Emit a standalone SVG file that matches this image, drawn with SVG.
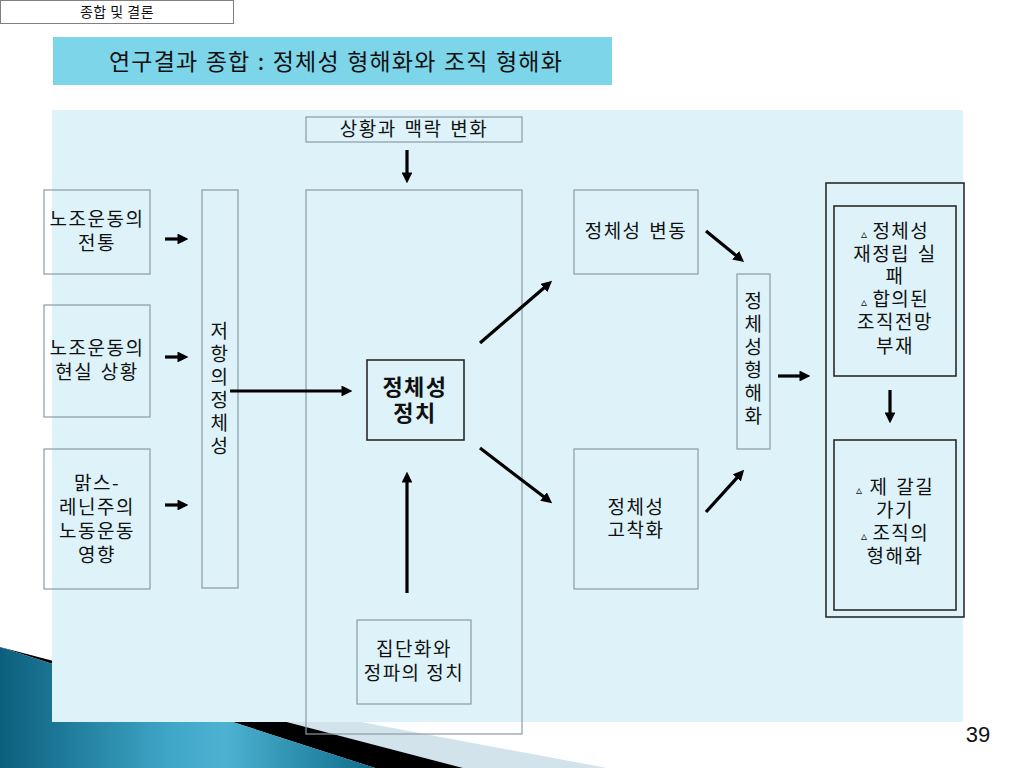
<svg xmlns="http://www.w3.org/2000/svg" width="1024" height="768" viewBox="0 0 1024 768">
<defs>
<linearGradient id="teal" x1="0" y1="0" x2="1" y2="0">
<stop offset="0" stop-color="#0B5F7C"/>
<stop offset="0.45" stop-color="#3FA6C8"/>
<stop offset="0.6" stop-color="#4DB2D2"/>
<stop offset="1" stop-color="#0E6C8A"/>
</linearGradient>
<marker id="ah" viewBox="0 0 10 10" refX="6" refY="5" markerWidth="3.4" markerHeight="3.4" orient="auto" markerUnits="strokeWidth">
<path d="M0,0 L10,5 L0,10 z" fill="#000"/>
</marker>
<style>
.t{font-family:"Noto Sans CJK KR","Noto Sans",sans-serif;fill:#111;text-anchor:middle}
.b{font-size:19px;letter-spacing:1.5px}
.box{fill:none;stroke:#8A9BA6;stroke-width:1.2}
.dbox{fill:none;stroke:#2A2A2A;stroke-width:1.6}
.arr{stroke:#000;stroke-width:3.2;fill:none;marker-end:url(#ah)}
.tri{font-size:12px}
</style>
</defs>
<rect width="1024" height="768" fill="#fff"/>
<!-- bottom decoration -->
<polygon points="200,692 607,768 463,768 200,700" fill="#D3E3EC"/>
<polygon points="0,647 463,768 375,768" fill="#000"/>
<polygon points="0,647 375,768 0,768" fill="url(#teal)"/>
<!-- header -->
<g id="header">
<rect x="0.5" y="0.5" width="233" height="23" fill="#fff" stroke="#808080" stroke-width="1"/>
<text class="t" x="117" y="17" font-size="14" letter-spacing="0.5">종합 및 결론</text>
</g>
<g id="title">
<rect x="53" y="37" width="559" height="48" fill="#7DD5EA"/>
<text class="t" x="336" y="70" font-size="23" letter-spacing="1.2" word-spacing="1">연구결과 종합 : 정체성 형해화와 조직 형해화</text>
</g>
<rect id="panel" x="52" y="110" width="911" height="612" fill="#DDF3F9"/>

<g id="context">
<rect class="box" x="306" y="117" width="216" height="25"/>
<text class="t b" x="414" y="136" word-spacing="2">상황과 맥락 변화</text>
</g>
<g id="center-frame">
<rect class="box" x="306" y="190" width="216" height="544"/>
</g>
<g id="identity-politics">
<rect class="dbox" x="367" y="360" width="97" height="80"/>
<text class="t" x="415" y="395" font-size="22" font-weight="bold" letter-spacing="1.5">정체성</text>
<text class="t" x="415" y="421" font-size="22" font-weight="bold" letter-spacing="1.5">정치</text>
</g>
<g id="factions">
<rect class="box" x="357" y="620" width="114" height="84"/>
<text class="t b" x="414" y="656">집단화와</text>
<text class="t b" x="414" y="680">정파의 정치</text>
</g>
<g id="tradition">
<rect class="box" x="44" y="190" width="106" height="84"/>
<text class="t b" x="97" y="226">노조운동의</text>
<text class="t b" x="97" y="250">전통</text>
</g>
<g id="reality">
<rect class="box" x="44" y="305" width="106" height="112"/>
<text class="t b" x="97" y="355">노조운동의</text>
<text class="t b" x="97" y="379" word-spacing="2">현실 상황</text>
</g>
<g id="marxism">
<rect class="box" x="44" y="449" width="106" height="140"/>
<text class="t b" x="97" y="490">맑스-</text>
<text class="t b" x="97" y="514">레닌주의</text>
<text class="t b" x="97" y="538">노동운동</text>
<text class="t b" x="97" y="562">영향</text>
</g>
<g id="resistance-identity">
<rect class="box" x="202" y="190" width="36" height="398"/>
<text class="t b" x="220" y="338" letter-spacing="0">저<tspan x="220" dy="23">항</tspan><tspan x="220" dy="23">의</tspan><tspan x="220" dy="23">정</tspan><tspan x="220" dy="23">체</tspan><tspan x="220" dy="23">성</tspan></text>
</g>
<g id="identity-change">
<rect class="box" x="574" y="190" width="124" height="84"/>
<text class="t b" x="636" y="238" word-spacing="2">정체성 변동</text>
</g>
<g id="identity-fixation">
<rect class="box" x="574" y="449" width="124" height="140"/>
<text class="t b" x="636" y="514">정체성</text>
<text class="t b" x="636" y="537">고착화</text>
</g>
<g id="identity-hollowing">
<rect class="box" x="737" y="274" width="33" height="175"/>
<text class="t b" x="754" y="308" letter-spacing="0">정<tspan x="754" dy="23">체</tspan><tspan x="754" dy="23">성</tspan><tspan x="754" dy="23">형</tspan><tspan x="754" dy="23">해</tspan><tspan x="754" dy="23">화</tspan></text>
</g>
<g id="outcome-frame">
<rect class="dbox" x="826" y="183" width="138" height="434"/>
</g>
<g id="failure">
<rect class="dbox" x="834" y="206" width="122" height="170"/>
<text class="t b" x="895" y="238"><tspan class="tri">▵ </tspan>정체성</text>
<text class="t b" x="895" y="261" word-spacing="2">재정립 실</text>
<text class="t b" x="895" y="283">패</text>
<text class="t b" x="895" y="306"><tspan class="tri">▵ </tspan>합의된</text>
<text class="t b" x="895" y="329">조직전망</text>
<text class="t b" x="895" y="353">부재</text>
</g>
<g id="separate-ways">
<rect class="dbox" x="834" y="440" width="122" height="170"/>
<text class="t b" x="895" y="494" word-spacing="2"><tspan class="tri">▵ </tspan>제 갈길</text>
<text class="t b" x="895" y="517">가기</text>
<text class="t b" x="895" y="540"><tspan class="tri">▵ </tspan>조직의</text>
<text class="t b" x="895" y="563">형해화</text>
</g>

<g id="connectors">
<line class="arr" x1="407" y1="150" x2="407" y2="179"/>
<line class="arr" x1="407" y1="593" x2="407" y2="476"/>
<line class="arr" x1="165" y1="239" x2="184" y2="239"/>
<line class="arr" x1="165" y1="357" x2="184" y2="357"/>
<line class="arr" x1="165" y1="505" x2="184" y2="505"/>
<line class="arr" x1="230" y1="391" x2="348" y2="391"/>
<line class="arr" x1="480" y1="343" x2="548.8" y2="283.7"/>
<line class="arr" x1="480" y1="448" x2="548.7" y2="500.5"/>
<line class="arr" x1="706" y1="231" x2="740.7" y2="259.3"/>
<line class="arr" x1="706" y1="512" x2="741.2" y2="473.1"/>
<line class="arr" x1="778" y1="376" x2="806" y2="376"/>
<line class="arr" x1="890" y1="390" x2="890" y2="419"/>
</g>
<text x="978" y="742" font-family="'Liberation Sans','Open Sans',sans-serif" font-size="22" fill="#111" text-anchor="middle">39</text>
</svg>
